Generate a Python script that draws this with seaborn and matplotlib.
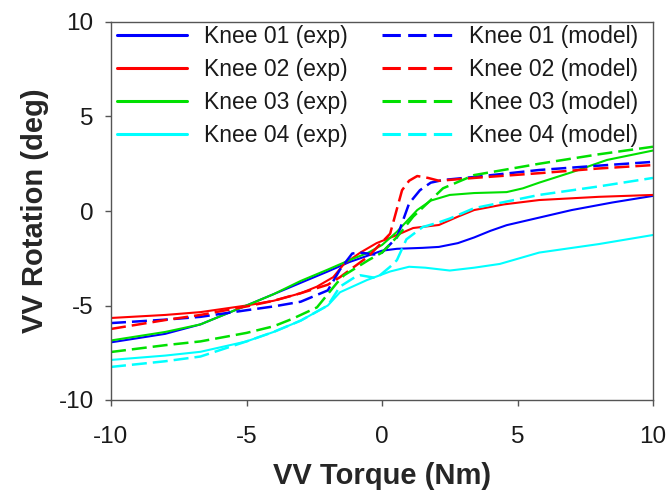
import matplotlib
matplotlib.use("Agg")
import matplotlib.pyplot as plt
import seaborn as sns

# ---- data ----
x_k1_exp = [-10, -8, -6.7, -5, -4, -3, -2, -1.2, -0.8, 0, 0.55, 1.5, 2.1, 2.8, 3.4, 4.0, 4.6, 5.8, 7.0, 8.5, 10]
y_k1_exp = [-6.95, -6.5, -6.0, -5.0, -4.4, -3.8, -3.2, -2.7, -2.5, -2.1, -2.0, -1.95, -1.9, -1.7, -1.4, -1.05, -0.75, -0.35, 0.05, 0.45, 0.8]

x_k2_exp = [-10, -8, -6.7, -5, -4, -3, -2.4, -1.8, -1.4, -0.8, -0.2, 0.5, 1.15, 2.1, 2.8, 3.4, 4.5, 5.8, 8, 10]
y_k2_exp = [-5.66, -5.5, -5.35, -5.0, -4.75, -4.35, -4.0, -3.5, -2.8, -2.2, -1.7, -1.3, -0.9, -0.74, -0.3, 0.05, 0.35, 0.58, 0.75, 0.85]

x_k3_exp = [-10, -8, -6.7, -5, -4, -3, -2, -1.2, -0.5, 0, 0.55, 1.3, 1.8, 2.5, 3.4, 4.6, 5.2, 5.8, 7.0, 8.3, 10]
y_k3_exp = [-6.85, -6.4, -6.0, -5.0, -4.4, -3.7, -3.1, -2.6, -2.2, -1.8, -1.1, 0.05, 0.55, 0.85, 0.95, 1.0, 1.2, 1.5, 2.05, 2.7, 3.2]

x_k4_exp = [-10, -8, -6.7, -5, -4, -3, -2, -1.55, -0.55, 0.3, 1.0, 1.6, 2.5, 3.4, 4.35, 5.8, 8, 10]
y_k4_exp = [-7.88, -7.65, -7.45, -6.9, -6.4, -5.8, -5.0, -4.3, -3.65, -3.2, -2.95, -3.0, -3.15, -3.0, -2.8, -2.2, -1.75, -1.27]

x_k1_mod = [-10, -8, -6.7, -5, -4, -3, -2, -1.55, -1.1, -0.8, -0.3, 0, 0.55, 1.0, 1.4, 1.8, 2.25, 3.4, 5.8, 8, 10]
y_k1_mod = [-5.93, -5.75, -5.6, -5.25, -5.05, -4.8, -4.2, -3.1, -2.25, -2.2, -2.3, -2.2, -1.4, 0.4, 1.1, 1.5, 1.64, 1.8, 2.17, 2.4, 2.6]

x_k2_mod = [-10, -8, -6.7, -5, -4, -3, -2, -1.55, -0.5, 0.3, 0.74, 1.0, 1.3, 1.7, 2.1, 3.4, 5.8, 8, 10]
y_k2_mod = [-6.24, -5.77, -5.5, -5.05, -4.75, -4.35, -3.9, -3.5, -2.4, -1.2, 1.1, 1.6, 1.85, 1.75, 1.6, 1.75, 2.0, 2.25, 2.43]

x_k3_mod = [-10, -8, -6.7, -5, -4, -3.3, -2.4, -1.66, -1.4, -0.5, 0, 0.6, 1.15, 1.8, 2.25, 3.4, 5.8, 8, 10]
y_k3_mod = [-7.46, -7.1, -6.9, -6.45, -6.1, -5.7, -5.1, -3.8, -3.4, -2.6, -2.2, -1.3, -0.3, 0.58, 1.2, 1.9, 2.5, 3.0, 3.4]

x_k4_mod = [-10, -8, -6.7, -5, -4, -3, -2, -1.55, -1.0, -0.8, -0.2, 0.3, 0.55, 0.9, 1.5, 2.1, 2.5, 3.4, 5.8, 8, 10]
y_k4_mod = [-8.25, -7.95, -7.7, -6.9, -6.4, -5.8, -5.0, -4.0, -3.5, -3.4, -3.55, -2.95, -2.6, -1.5, -0.85, -0.6, -0.4, 0.15, 0.85, 1.3, 1.75]

labels_exp = ["Knee 01 (exp)", "Knee 02 (exp)", "Knee 03 (exp)", "Knee 04 (exp)"]
labels_mod = ["Knee 01 (model)", "Knee 02 (model)", "Knee 03 (model)", "Knee 04 (model)"]
colors = ["#0000FF", "#FF0000", "#00E000", "#00FFFF"]
x_ticks = [-10, -5, 0, 5, 10]
y_ticks = [-10, -5, 0, 5, 10]

sns.set_style("ticks")
plt.rcParams["font.family"] = ["Liberation Sans", "DejaVu Sans"]
plt.rcParams["axes.unicode_minus"] = False

fig = plt.figure(figsize=(6.7, 4.97), dpi=100)
ax = fig.add_axes([111 / 670, 1 - 400 / 497, (653 - 111) / 670, (400 - 22) / 497])

exp_sets = [(x_k1_exp, y_k1_exp), (x_k2_exp, y_k2_exp), (x_k3_exp, y_k3_exp), (x_k4_exp, y_k4_exp)]
mod_sets = [(x_k1_mod, y_k1_mod), (x_k2_mod, y_k2_mod), (x_k3_mod, y_k3_mod), (x_k4_mod, y_k4_mod)]

for (xs, ys), lab, c in zip(exp_sets, labels_exp, colors):
    sns.lineplot(x=xs, y=ys, ax=ax, color=c, linewidth=1.5, label=lab, sort=False)
for (xs, ys), lab, c in zip(mod_sets, labels_mod, colors):
    sns.lineplot(x=xs, y=ys, ax=ax, color=c, linewidth=1.8, label=lab, sort=False,
                 linestyle=(0, (6, 2.4)))

ax.set_xlim(-10, 10)
ax.set_ylim(-10, 10)
ax.set_xticks(x_ticks)
ax.set_yticks(y_ticks)
ax.tick_params(axis="both", labelsize=17.5, direction="out", length=4.5, width=1,
               colors="#555555", labelcolor="#1a1a1a")
ax.tick_params(axis="y", pad=8)
ax.tick_params(axis="x", pad=14)
for s in ax.spines.values():
    s.set_color("#555555")
    s.set_linewidth(1)

ax.set_xlabel("VV Torque (Nm)", fontsize=21, fontweight="bold")
ax.set_ylabel("VV Rotation (deg)", fontsize=21, fontweight="bold")
ax.xaxis.set_label_coords(0.5, -0.164)
ax.yaxis.set_label_coords(-0.115, 0.5)

leg = ax.legend(ncol=2, loc="upper left", bbox_to_anchor=(6 / 542, 0.993), frameon=False,
                fontsize=16.5, handlelength=3.05, handletextpad=0.74, columnspacing=1.5,
                labelspacing=0.44, borderaxespad=0.0, borderpad=0.0)
for t in leg.get_texts():
    t.set_color("#1a1a1a")
for h in leg.get_lines():
    h.set_linewidth(2.2)

fig.savefig("out.png", dpi=100)
